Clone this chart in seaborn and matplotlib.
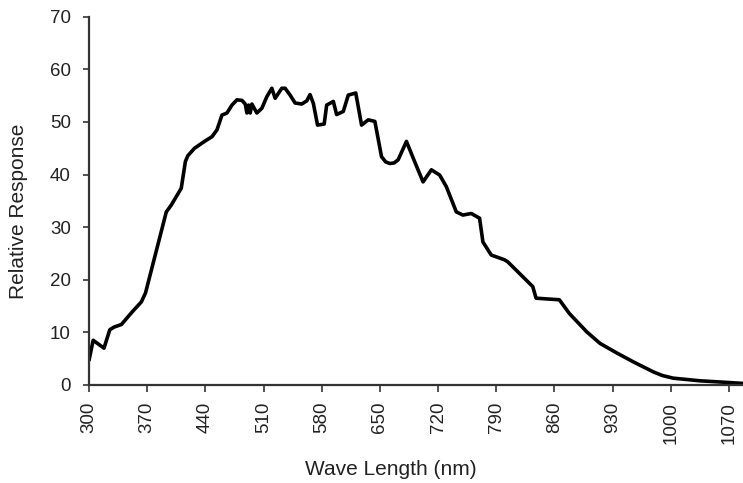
import matplotlib
matplotlib.use("Agg")
import matplotlib.pyplot as plt
import seaborn as sns
import pandas as pd

# Spectral response curve of the sensor
wavelength_nm = [
    300, 305, 318, 325, 330, 339, 352, 363, 368, 393, 399, 411, 416, 419,
    427, 439, 448, 454, 460, 466, 472, 478, 484, 488, 490, 492, 494, 496,
    502, 508, 514, 520, 524, 532, 536, 542, 548, 556, 562, 566, 570, 575,
    583, 586, 594, 598, 606, 612, 621, 628, 636, 644, 652, 657, 662, 667,
    672, 682, 692, 702, 712, 722, 730, 742, 750, 760, 770, 774, 784, 800,
    804, 834, 838, 866, 878, 899, 915, 935, 955, 979, 990, 1003, 1035,
    1067, 1087,
]
relative_response = [
    4.7, 8.5, 7.0, 10.5, 11.0, 11.5, 13.9, 15.8, 17.5, 32.9, 34.2, 37.4, 42.5, 43.6,
    45.0, 46.3, 47.2, 48.5, 51.3, 51.7, 53.2, 54.2, 54.1, 53.4, 51.7, 53.2, 51.7, 53.4,
    51.7, 52.6, 54.8, 56.4, 54.5, 56.4, 56.4, 55.1, 53.6, 53.4, 54.0, 55.2, 53.5, 49.4,
    49.6, 53.2, 53.9, 51.4, 52.0, 55.1, 55.5, 49.4, 50.4, 50.1, 43.4, 42.4, 42.1, 42.2,
    42.8, 46.3, 42.4, 38.6, 40.9, 39.9, 37.7, 32.9, 32.3, 32.6, 31.7, 27.2, 24.7, 23.8,
    23.4, 18.7, 16.5, 16.2, 13.6, 10.1, 7.9, 6.1, 4.4, 2.5, 1.8, 1.3, 0.8,
    0.5, 0.3,
]
x_ticks = [300, 370, 440, 510, 580, 650, 720, 790, 860, 930, 1000, 1070]
y_ticks = [0, 10, 20, 30, 40, 50, 60, 70]

df = pd.DataFrame({"Wave Length (nm)": wavelength_nm,
                   "Relative Response": relative_response})

sns.set_style("ticks")
plt.rcParams["font.family"] = ["Liberation Sans", "DejaVu Sans"]

fig = plt.figure(figsize=(7.43, 4.83), dpi=100)
ax = fig.add_axes([0.1198, 0.2029, 0.8802, 0.7625])

sns.lineplot(data=df, x="Wave Length (nm)", y="Relative Response", ax=ax,
             color="black", linewidth=2.6, solid_joinstyle="round",
             solid_capstyle="round")

ax.set_xlim(300, 1087)
ax.set_ylim(0, 70)
ax.set_xticks(x_ticks)
ax.set_yticks(y_ticks)
ax.set_xticklabels([str(t) for t in x_ticks], rotation=90)

for side in ("top", "right"):
    ax.spines[side].set_visible(False)
for side in ("left", "bottom"):
    ax.spines[side].set_color("#333333")
    ax.spines[side].set_linewidth(1.6)

ax.tick_params(axis="y", direction="out", length=4, width=1.2, color="#333333",
               labelsize=13.5, labelcolor="#222222", pad=9)
ax.tick_params(axis="x", direction="out", length=5, width=1.2, color="#333333",
               labelsize=13.5, labelcolor="#222222", pad=7)

ax.set_xlabel("Wave Length (nm)", fontsize=15, color="#222222")
ax.set_ylabel("Relative Response", fontsize=15, color="#222222")
ax.xaxis.set_label_coords(0.462, -0.205)
ax.yaxis.set_label_coords(-0.093, 0.472)

fig.savefig("out.png", dpi=100, facecolor="white")
